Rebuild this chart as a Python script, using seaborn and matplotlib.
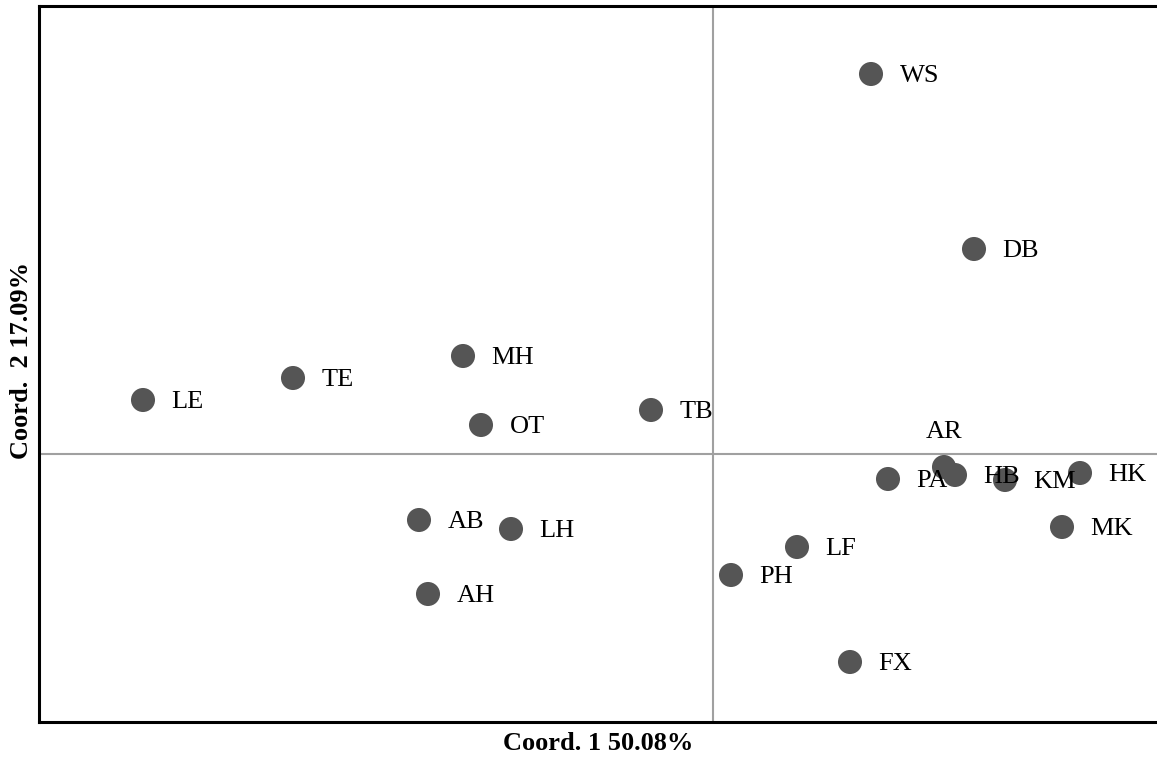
import matplotlib
matplotlib.use("Agg")
import matplotlib.pyplot as plt
import seaborn as sns
import pandas as pd

# PCoA site scores (axis 1, axis 2)
sites = ["WS", "DB", "MH", "TE", "LE", "TB", "OT", "AR", "HB", "PA", "KM", "HK",
         "MK", "AB", "LH", "LF", "PH", "AH", "FX"]
coord1 = [0.079, 0.1305, -0.125, -0.210, -0.285, -0.031, -0.116, 0.1155, 0.121,
          0.0875, 0.146, 0.1835, 0.1745, -0.147, -0.101, 0.042, 0.009, -0.1425, 0.0685]
coord2 = [0.190, 0.1025, 0.049, 0.038, 0.027, 0.022, 0.0145, -0.0065, -0.0105,
          -0.0125, -0.013, -0.0095, -0.0365, -0.033, -0.0375, -0.0465, -0.0605,
          -0.070, -0.104]
x_label = "Coord. 1 50.08%"
y_label = "Coord.  2 17.09%"

df = pd.DataFrame({"site": sites, "c1": coord1, "c2": coord2})

sns.set_style("white")
plt.rcParams["font.family"] = ["Liberation Serif", "DejaVu Serif"]
plt.rcParams["text.color"] = "black"
plt.rcParams["axes.labelcolor"] = "black"

fig = plt.figure(figsize=(11.57, 7.6), dpi=100)
ax = fig.add_axes([39 / 1157, 1 - 722 / 760, 1 - 39 / 1157, (722 - 6) / 760])

ax.axvline(0, color="#a0a0a0", lw=1.5, zorder=1)
ax.axhline(0, color="#a0a0a0", lw=1.5, zorder=1)

sns.scatterplot(data=df, x="c1", y="c2", ax=ax, s=300, color="#555555",
                edgecolor="none", zorder=3)

for s, x, y in zip(sites, coord1, coord2):
    if s == "AR":
        ax.annotate(s, (x, y), xytext=(0, 25), textcoords="offset points",
                    ha="center", va="center", fontsize=19, color="black", zorder=4)
    else:
        ax.annotate(s, (x, y), xytext=(20.5, -1.5), textcoords="offset points",
                    ha="left", va="center", fontsize=19, color="black", zorder=4)

ax.set_xlim(-0.337, 0.222)
ax.set_ylim(-0.134, 0.224)
ax.set_xticks([])
ax.set_yticks([])

for side in ["left", "bottom", "top"]:
    ax.spines[side].set_visible(True)
    ax.spines[side].set_color("black")
    ax.spines[side].set_linewidth(2.2)
ax.spines["right"].set_visible(False)

ax.set_xlabel(x_label, fontsize=19, fontweight="bold")
ax.set_ylabel(y_label, fontsize=19, fontweight="bold")
ax.xaxis.set_label_coords(0.5, -0.014)
ax.xaxis.label.set_va("top")
ax.yaxis.set_label_coords(-0.016, 0.505)
ax.yaxis.label.set_va("center")

fig.savefig("out.png", dpi=100)
